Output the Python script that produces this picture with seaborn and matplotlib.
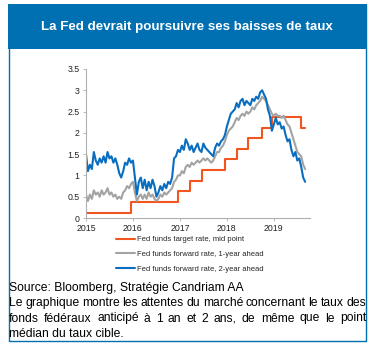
import numpy as np
import pandas as pd
import matplotlib
matplotlib.use("Agg")
import matplotlib.pyplot as plt
import seaborn as sns
from matplotlib.patches import Rectangle
from matplotlib.lines import Line2D

# ---------------- data ----------------
title = "La Fed devrait poursuivre ses baisses de taux"
year_ticks = [2015, 2016, 2017, 2018, 2019]
y_ticks = [0, 0.5, 1, 1.5, 2, 2.5, 3, 3.5]
y_tick_labels = ["0", "0.5", "1", "1.5", "2", "2.5", "3", "3.5"]

# semi-monthly observations starting Jan 2015 (step = 1/24 year)
fwd_2y = [1.50, 1.10, 1.25, 1.15, 1.55, 1.35, 1.25, 1.40, 1.30, 1.45, 1.30, 1.55,
          1.40, 1.45, 1.30, 1.40, 1.25, 1.05, 0.95, 1.10, 1.30, 1.25, 1.40, 1.30,
          1.35, 0.95, 0.55, 0.85, 0.95, 0.70, 0.90, 0.65, 0.85, 0.70, 0.90, 0.75,
          0.50, 0.60, 0.75, 0.65, 0.80, 0.70, 0.85, 0.80, 0.95, 1.40, 1.45, 1.60,
          1.55, 1.70, 1.60, 1.85, 1.75, 1.60, 1.70, 1.55, 1.65, 1.75, 1.60, 1.55,
          1.75, 1.65, 1.60, 1.55, 1.50, 1.45, 1.65, 1.75, 1.70, 1.80, 1.85, 1.95,
          2.15, 2.30, 2.45, 2.50, 2.55, 2.70, 2.60, 2.75, 2.80, 2.65, 2.75, 2.70,
          2.65, 2.80, 2.75, 2.85, 2.80, 2.95, 3.00, 2.90, 2.80, 2.55, 2.40, 2.05,
          2.20, 2.35, 2.20, 2.25, 2.10, 2.15, 1.95, 1.80, 1.85, 1.60, 1.45, 1.55,
          1.35, 1.40, 1.20, 0.95, 0.85]
fwd_1y = [0.55, 0.40, 0.55, 0.45, 0.65, 0.55, 0.60, 0.50, 0.65, 0.55, 0.60, 0.70,
          0.55, 0.60, 0.50, 0.55, 0.45, 0.50, 0.45, 0.60, 0.65, 0.75, 0.70, 0.80,
          0.85, 0.60, 0.40, 0.50, 0.55, 0.45, 0.55, 0.45, 0.60, 0.50, 0.55, 0.45,
          0.40, 0.45, 0.55, 0.50, 0.60, 0.55, 0.60, 0.65, 0.70, 0.85, 0.90, 1.00,
          1.00, 1.10, 1.05, 1.20, 1.25, 1.20, 1.30, 1.25, 1.30, 1.35, 1.30, 1.35,
          1.40, 1.35, 1.40, 1.35, 1.30, 1.35, 1.45, 1.55, 1.55, 1.65, 1.70, 1.80,
          1.95, 2.05, 2.10, 2.15, 2.25, 2.35, 2.30, 2.40, 2.45, 2.40, 2.50, 2.45,
          2.50, 2.60, 2.55, 2.65, 2.70, 2.75, 2.85, 2.80, 2.75, 2.65, 2.55, 2.45,
          2.40, 2.45, 2.40, 2.40, 2.35, 2.40, 2.30, 2.20, 2.15, 2.00, 1.85, 1.70,
          1.55, 1.50, 1.45, 1.25, 1.15]

# Fed funds target range mid point (change dates as fractional years)
target_dates = [2015.00, 2015.96, 2016.96, 2017.21, 2017.46, 2017.96, 2018.22,
                2018.46, 2018.74, 2018.96, 2019.58, 2019.67]
target_vals = [0.125, 0.375, 0.625, 0.875, 1.125, 1.375, 1.625,
               1.875, 2.125, 2.375, 2.125, 2.125]

labels = ["Fed funds target rate, mid point",
          "Fed funds forward rate, 1-year ahead",
          "Fed funds forward rate, 2-year ahead"]

source_line = "Source: Bloomberg, Stratégie Candriam AA"
body_lines = ["Le graphique montre les attentes du marché concernant le taux des",
              "fonds fédéraux anticipé à 1 an et 2 ans, de même que le point",
              "médian du taux cible."]

# ---------------- style ----------------
sns.set_theme(style="white")
plt.rcParams["font.family"] = ["Liberation Sans", "DejaVu Sans"]

W, H = 375, 351
fig = plt.figure(figsize=(W / 100, H / 100), dpi=100)

BLUE_HDR = "#0070B2"
ORANGE = "#F0561E"
GREY = "#A3A3A3"
BLUE = "#0A6EC0"

def fx(px):
    return px / W

def fy(py):
    return 1 - py / H

# header box and frame
fig.patches.append(Rectangle((fx(8), fy(49)), fx(366) - fx(8), fy(4) - fy(49),
                             transform=fig.transFigure, facecolor=BLUE_HDR,
                             edgecolor="none", zorder=0))
fig.text(fx(187), fy(27), title, color="white", fontsize=9.6, fontweight="bold",
         ha="center", va="center")
frame = dict(transform=fig.transFigure, color=BLUE_HDR, lw=1.0)
fig.add_artist(Line2D([fx(9), fx(9)], [fy(49), fy(341)], **frame))
fig.add_artist(Line2D([fx(366), fx(366)], [fy(4), fy(341)], **frame))
fig.add_artist(Line2D([fx(9), fx(366)], [fy(341), fy(341)], **frame))

# ---------------- chart ----------------
ax = fig.add_axes([fx(86), fy(218), fx(310) - fx(86), fy(69) - fy(218)])

n = len(fwd_2y)
x_obs = [2015 + i / 24 for i in range(n)]
df = pd.DataFrame({"date": x_obs, "fwd_1y": fwd_1y, "fwd_2y": fwd_2y})
df_t = pd.DataFrame({"date": target_dates, "target": target_vals})

sns.lineplot(data=df_t, x="date", y="target", ax=ax, color=ORANGE, lw=1.5,
             drawstyle="steps-post", label=labels[0])
sns.lineplot(data=df, x="date", y="fwd_1y", ax=ax, color=GREY, lw=1.5,
             label=labels[1])
sns.lineplot(data=df, x="date", y="fwd_2y", ax=ax, color=BLUE, lw=1.5,
             label=labels[2])

ax.set_xlim(2015, 2019.77)
ax.set_ylim(0, 3.5)
ax.set_xticks(year_ticks)
ax.set_xticklabels([str(y) for y in year_ticks])
ax.set_yticks(y_ticks)
ax.set_yticklabels(y_tick_labels)
ax.set_xlabel("")
ax.set_ylabel("")
for s in ["top", "right"]:
    ax.spines[s].set_visible(False)
for s in ["left", "bottom"]:
    ax.spines[s].set_color("#B0B0B0")
    ax.spines[s].set_linewidth(0.8)
ax.tick_params(axis="both", which="both", direction="out", length=2.5, width=0.6,
               color="#B0B0B0", labelsize=6.3, labelcolor="#222222", pad=2,
               left=True, bottom=True)

leg = ax.legend(loc="upper left", bbox_to_anchor=(fx(116), fy(236)),
                bbox_transform=fig.transFigure, frameon=False, fontsize=5.5,
                handlelength=2.5, handletextpad=0.3, labelspacing=0.95,
                borderpad=0.0, borderaxespad=0.0)
for h in leg.get_lines():
    h.set_linewidth(1.5)

# ---------------- source text ----------------
fs_body = 8.7
fig.text(fx(9), fy(291), source_line, fontsize=fs_body, color="black",
         ha="left", va="baseline")

renderer = fig.canvas.get_renderer()

def justified(line, y_px, x0=9, x1=366):
    words = line.split(" ")
    arts = [fig.text(0, fy(y_px), w, fontsize=fs_body, color="black",
                     ha="left", va="baseline") for w in words]
    widths = [a.get_window_extent(renderer).width for a in arts]
    gap = (x1 - x0 - sum(widths)) / (len(words) - 1)
    x = x0
    for a, w in zip(arts, widths):
        a.set_x(fx(x))
        x += w + gap

justified(body_lines[0], 306)
justified(body_lines[1], 321.5)
fig.text(fx(9), fy(337), body_lines[2], fontsize=fs_body, color="black",
         ha="left", va="baseline")

fig.savefig("out.png", dpi=100)
